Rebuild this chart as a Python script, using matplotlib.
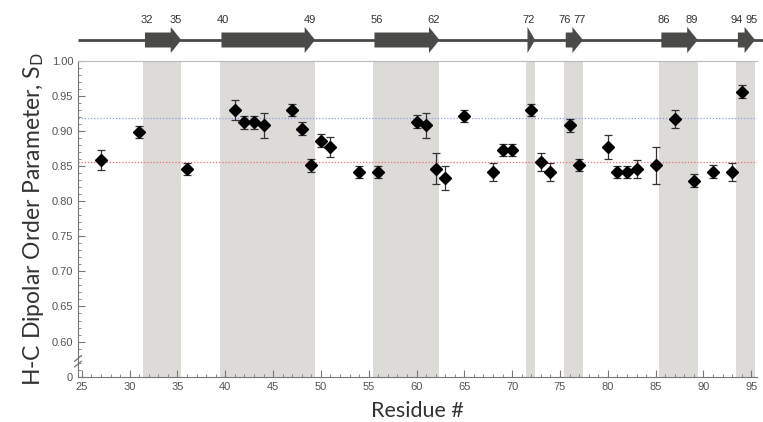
import matplotlib
matplotlib.use("Agg")
import matplotlib.pyplot as plt
from matplotlib.patches import Polygon
import numpy as np

# ---- data ----
residues = [27, 31, 36, 41, 42, 43, 44, 47, 48, 49, 50, 51, 54, 56, 60, 61, 62, 63, 65,
            68, 69, 70, 72, 73, 74, 76, 77, 80, 81, 82, 83, 85, 87, 89, 91, 93, 94]
order_param = [0.859, 0.899, 0.846, 0.930, 0.912, 0.912, 0.908, 0.930, 0.903, 0.851, 0.886,
               0.877, 0.842, 0.842, 0.913, 0.908, 0.846, 0.833, 0.921, 0.842, 0.873, 0.873,
               0.930, 0.856, 0.842, 0.908, 0.851, 0.877, 0.842, 0.842, 0.846, 0.851, 0.917,
               0.829, 0.842, 0.842, 0.956]
errors = [0.014, 0.0086, 0.0086, 0.0138, 0.0088, 0.0088, 0.0176, 0.009, 0.009, 0.009, 0.009,
          0.014, 0.0086, 0.0086, 0.009, 0.0176, 0.022, 0.017, 0.0086, 0.013, 0.0086, 0.0086,
          0.009, 0.013, 0.013, 0.009, 0.0086, 0.0176, 0.0086, 0.0086, 0.013, 0.026, 0.0135,
          0.009, 0.009, 0.013, 0.009]

strand_starts = [32, 40, 56, 72, 76, 86, 94]
strand_ends = [35, 49, 62, 72, 77, 89, 95]
strand_labels = [["32", "35"], ["40", "49"], ["56", "62"], ["72"], ["76", "77"], ["86", "89"], ["94", "95"]]

ref_high = 0.919
ref_low = 0.856

yticks = [0.55, 0.60, 0.65, 0.70, 0.75, 0.80, 0.85, 0.90, 0.95, 1.00]
ytick_labels = ["0", "0.60", "0.65", "0.70", "0.75", "0.80", "0.85", "0.90", "0.95", "1.00"]
xticks = list(range(25, 100, 5))

# ---- figure ----
W, H = 763, 422
fig = plt.figure(figsize=(W / 100, H / 100), dpi=100)
L, R = 78 / W, 757 / W
B, T = 1 - 376.7 / H, 1 - 60.7 / H
ax = fig.add_axes([L, B, R - L, T - B])
xmin, xmax = 24.6, 95.6
ax.set_xlim(xmin, xmax)
ax.set_ylim(0.55, 1.0)

band_col = "#dcdbd8"
for s, e in zip(strand_starts, strand_ends):
    ax.axvspan(s - 0.6, e + 0.4, color=band_col, lw=0, zorder=0)

ax.axhline(ref_high, color="#8f9bdc", lw=0.9, ls=(0, (1, 1.5)), zorder=1)
ax.axhline(ref_low, color="#ee7070", lw=0.9, ls=(0, (1, 1.5)), zorder=1)

ax.errorbar(residues, order_param, yerr=errors, fmt="D", color="black", ms=6,
            ecolor="#333333", elinewidth=0.9, capsize=3, capthick=0.9, zorder=3)

tick_col = "#555555"
spine_col = "#777777"
ax.set_yticks(yticks)
ax.set_yticklabels(ytick_labels)
ax.set_yticks(np.arange(0.55, 1.001, 0.01), minor=True)
ax.set_xticks(xticks)
ax.set_xticks(np.arange(25, 96, 1), minor=True)
ax.tick_params(axis="both", which="major", direction="in", length=5, width=0.8,
               color=spine_col, labelcolor=tick_col, labelsize=8)
ax.tick_params(axis="both", which="minor", direction="in", length=2.5, width=0.6, color=spine_col)
ax.spines["right"].set_visible(False)
ax.spines["top"].set_color("#bbbbbb")
ax.spines["left"].set_color(spine_col)
ax.spines["bottom"].set_color(spine_col)
for lab in ax.get_xticklabels() + ax.get_yticklabels():
    lab.set_fontfamily("Liberation Sans")

# axis break marks
for dy in (-0.004, 0.004):
    ax.plot([xmin - 0.35, xmin + 0.35], [0.572 + dy - 0.004, 0.572 + dy + 0.004],
            color=spine_col, lw=0.9, clip_on=False, zorder=5)

ax.set_xlabel("Residue #", fontsize=15.5, color="#333333", family="Lato", labelpad=7)
ax.set_ylabel(r"H-C Dipolar Order Parameter, S$_{\mathrm{D}}$", fontsize=16.5,
              color="#333333", family="Lato", labelpad=4)

# ---- secondary structure track ----
axt = fig.add_axes([L, 1 - 58 / H, R - L, 58 / H])
axt.set_xlim(xmin, xmax)
axt.set_ylim(0, 58)
axt.axis("off")
arrow_col = "#4a4b48"
axt.plot([xmin, xmax + 0.6], [18, 18], color=arrow_col, lw=2, clip_on=False, solid_capstyle="butt")
head_len = 1.1
for s, e, labs in zip(strand_starts, strand_ends, strand_labels):
    x0 = s - 0.4
    tip = e + 0.4
    base = max(x0, tip - head_len)
    pts = [(x0, 18 - 7.5), (base, 18 - 7.5), (base, 18 - 13), (tip, 18),
           (base, 18 + 13), (base, 18 + 7.5), (x0, 18 + 7.5)]
    axt.add_patch(Polygon(pts, closed=True, color=arrow_col, lw=0))
    if len(labs) == 1:
        positions = [s - 0.3]
    elif e - s == 1:
        positions = [s - 0.55, e + 0.0]
    else:
        positions = [s - 0.2, e - 0.2]
    for p, t in zip(positions, labs):
        axt.text(p, 38, t, ha="center", va="center", fontsize=8, color="#333333",
                 family="Liberation Sans")

fig.savefig("out.png", dpi=100)
